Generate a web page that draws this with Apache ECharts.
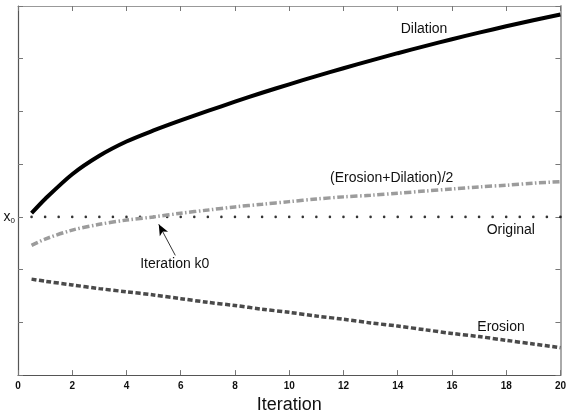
<!DOCTYPE html>
<html>
<head>
<meta charset="utf-8">
<script src="https://cdn.jsdelivr.net/npm/echarts@6/dist/echarts.min.js"></script>
<style>
html,body{margin:0;padding:0;background:#fff;}
#chart{width:569px;height:419px;}
</style>
</head>
<body>
<div id="chart"></div>
<script>
// ---- data ----
const iterations = [0.5, 1, 2, 3, 4, 5, 6, 7, 8, 9, 10, 11, 12, 13, 14, 15, 16, 17, 18, 19, 20];
const dilation = [3.07, 3.34, 3.81, 4.16, 4.43, 4.64, 4.83, 5.01, 5.185, 5.355, 5.515, 5.67, 5.82, 5.965, 6.105, 6.24, 6.37, 6.495, 6.615, 6.73, 6.84];
const erosion = [1.82, 1.78, 1.71, 1.64, 1.58, 1.52, 1.45, 1.38, 1.32, 1.25, 1.19, 1.12, 1.06, 0.99, 0.93, 0.86, 0.79, 0.73, 0.66, 0.59, 0.52];
const meanED = [2.46, 2.58, 2.75, 2.86, 2.94, 3.00, 3.07, 3.13, 3.19, 3.24, 3.29, 3.34, 3.38, 3.41, 3.45, 3.49, 3.53, 3.57, 3.60, 3.64, 3.67];
const originalX = [0.5, 1, 1.5, 2, 2.5, 3, 3.5, 4, 4.5, 5, 5.5, 6, 6.5, 7, 7.5, 8, 8.5, 9, 9.5, 10,
                   10.5, 11, 11.5, 12, 12.5, 13, 13.5, 14, 14.5, 15, 15.5, 16, 16.5, 17, 17.5, 18, 18.5, 19, 19.5, 20];
const originalY = [3, 3, 3, 3, 3, 3, 3, 3, 3, 3, 3, 3, 3, 3, 3, 3, 3, 3, 3, 3,
                   3, 3, 3, 3, 3, 3, 3, 3, 3, 3, 3, 3, 3, 3, 3, 3, 3, 3, 3, 3];
const xTickValues = [0, 2, 4, 6, 8, 10, 12, 14, 16, 18, 20];
const yLabelValue = 3; // x0 level
const annotations = [
  { text: 'Dilation', at: [14.97, 6.56] },
  { text: '(Erosion+Dilation)/2', at: [13.78, 3.74] },
  { text: 'Original', at: [18.17, 2.74] },
  { text: 'Erosion', at: [17.81, 0.91] },
  { text: 'Iteration k0', at: [5.78, 2.10] }
];
const arrowFrom = [5.80, 2.27];
const arrowTo = [5.19, 2.86];

const FONT = 'Liberation Sans, Arial, Helvetica, sans-serif';
const pair = (xs, ys) => xs.map((x, i) => [x, ys[i]]);

const chart = echarts.init(document.getElementById('chart'), null, { renderer: 'canvas' });

const axisLineStyle = { color: '#555', width: 1.2 };
const tickStyle = { color: '#777', width: 1 };

const option = {
  animation: false,
  backgroundColor: '#fff',
  grid: { left: 18, right: 3, top: 6, bottom: 37, containLabel: false },
  xAxis: [
    {
      type: 'value', min: 0, max: 20, interval: 2, position: 'bottom',
      name: 'Iteration', nameLocation: 'middle', nameGap: 15,
      nameTextStyle: { fontFamily: FONT, fontSize: 18, color: '#111' },
      axisLine: { show: true, onZero: false, lineStyle: axisLineStyle },
      axisTick: { show: true, inside: true, length: 5, lineStyle: tickStyle },
      axisLabel: { show: true, margin: 6, fontFamily: FONT, fontSize: 10, fontWeight: 'bold', color: '#111',
        formatter: v => xTickValues.indexOf(v) >= 0 ? String(v) : '' },
      splitLine: { show: false }
    },
    {
      type: 'value', min: 0, max: 20, interval: 2, position: 'top',
      axisLine: { show: true, onZero: false, lineStyle: { color: '#999', width: 1.2 } },
      axisTick: { show: true, inside: true, length: 5, lineStyle: tickStyle },
      axisLabel: { show: false }, splitLine: { show: false }
    }
  ],
  yAxis: [
    {
      type: 'value', min: 0, max: 7, interval: 1, position: 'left',
      axisLine: { show: true, onZero: false, lineStyle: axisLineStyle },
      axisTick: { show: true, inside: true, length: 5, lineStyle: tickStyle },
      axisLabel: {
        show: true, margin: 3,
        formatter: v => v === yLabelValue ? '{a|x}{b|0}' : '',
        rich: {
          a: { fontFamily: FONT, fontSize: 14, color: '#111' },
          b: { fontFamily: FONT, fontSize: 8, color: '#111', padding: [7, 0, 0, 0] }
        }
      },
      splitLine: { show: false }
    },
    {
      type: 'value', min: 0, max: 7, interval: 1, position: 'right',
      axisLine: { show: true, onZero: false, lineStyle: { color: '#aaa', width: 2 } },
      axisTick: { show: true, inside: true, length: 5, lineStyle: tickStyle },
      axisLabel: { show: false }, splitLine: { show: false }
    }
  ],
  series: [
    {
      name: 'Erosion', type: 'line', data: pair(iterations, erosion), smooth: 0.3,
      showSymbol: false, symbol: 'none',
      lineStyle: { color: '#4a4a4a', width: 3.5, type: [5, 2.5] }
    },
    {
      name: '(Erosion+Dilation)/2', type: 'line', data: pair(iterations, meanED), smooth: 0.3,
      showSymbol: false, symbol: 'none',
      lineStyle: { color: '#9c9c9c', width: 3.5, type: [7, 2.5, 1.5, 2.5] }
    },
    {
      name: 'Dilation', type: 'line', data: pair(iterations, dilation), smooth: 0.3,
      showSymbol: false, symbol: 'none',
      lineStyle: { color: '#000', width: 4 }
    },
    {
      name: 'Original', type: 'scatter', data: pair(originalX, originalY),
      symbol: 'circle', symbolSize: 2.6, itemStyle: { color: '#000' },
      markLine: {
        silent: true, symbol: ['none', 'arrow'], symbolSize: [7, 11],
        label: { show: false },
        lineStyle: { color: '#000', width: 0.8, type: 'solid' },
        data: [[{ coord: arrowFrom }, { coord: arrowTo }]]
      }
    }
  ]
};
chart.setOption(option);

const graphics = annotations.map(a => {
  const p = chart.convertToPixel({ xAxisIndex: 0, yAxisIndex: 0 }, a.at);
  return {
    type: 'text', x: p[0], y: p[1], silent: true,
    style: { text: a.text, fontFamily: FONT, fontSize: 14, fill: '#111', align: 'center', verticalAlign: 'middle' }
  };
});
chart.setOption({ graphic: graphics });
</script>
</body>
</html>
